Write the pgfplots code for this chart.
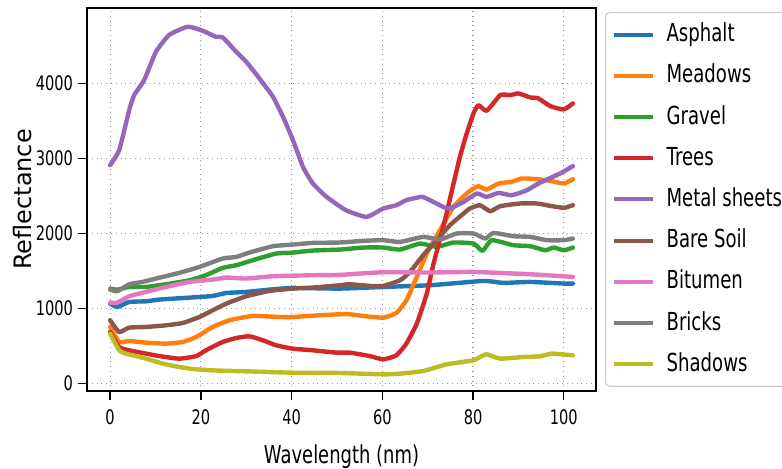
\documentclass[border=0pt]{standalone}
\usepackage{pgfplots}
\pgfplotsset{compat=1.18}
\usepackage{fontspec}
\setmainfont[FakeStretch=0.73]{DejaVu Sans}
\newfontfamily\ylabfont{DejaVu Sans}
\definecolor{c1}{HTML}{1F77B4}
\definecolor{c2}{HTML}{FF7F0E}
\definecolor{c3}{HTML}{2CA02C}
\definecolor{c4}{HTML}{D62728}
\definecolor{c5}{HTML}{9467BD}
\definecolor{c6}{HTML}{8C564B}
\definecolor{c7}{HTML}{E377C2}
\definecolor{c8}{HTML}{7F7F7F}
\definecolor{c9}{HTML}{BCBD22}
\begin{document}
\begin{tikzpicture}
\begin{axis}[
  at={(0,0)}, anchor=south west,
  scale only axis, width=254.5pt, height=191.5pt,
  xmin=-5.1, xmax=107.1, ymin=-98, ymax=5004,
  xtick={0,20,40,60,80,100}, ytick={0,1000,2000,3000,4000},
  scaled y ticks=false,
  /pgf/number format/assume math mode=true,
  /pgf/number format/1000 sep={},
  tick align=outside, major tick length=4.5pt,
  tick style={black, line width=0.7pt},
  xtick pos=bottom, ytick pos=left,
  ticklabel style={font=\fontsize{10}{12}\selectfont},
  xticklabel style={yshift=-1.5pt},
  yticklabel style={xshift=1pt},
  axis line style={black, line width=0.8pt},
  grid=major,
  major grid style={dotted, color=black!40, line width=0.6pt},
  xlabel={Wavelength (nm)},
  ylabel={Reflectance},
  xlabel style={font=\fontsize{12.3}{14}\selectfont, yshift=-3pt},
  ylabel style={font=\ylabfont\fontsize{12}{14}\selectfont, yshift=-5pt},
  every axis plot/.append style={line width=2.2pt, line join=round, line cap=round, smooth, tension=0.3},
  legend style={at={(rel axis cs:1,1)}, anchor=north west, xshift=4.5pt, yshift=-2pt,
    draw=black!20, rounded corners=2pt, line width=0.6pt,
    font=\fontsize{12.4}{15}\selectfont,
    inner xsep=3pt, inner ysep=4.5pt,
    row sep=7.6pt, column sep=6pt,
    nodes={inner sep=0pt, text height=10pt, text depth=3pt}},
  legend cell align=left,
  legend image code/.code={\draw[#1, line width=2pt, line cap=butt, sharp plot] (0pt,0pt) -- (19.5pt,0pt);},
]
\addplot[c1] coordinates {(0,1066) (1.6,1022) (4.2,1088) (7.9,1097) (10.8,1120) (17.5,1146) (22.6,1168) (25.6,1208) (30,1222) (35.9,1257) (40.3,1275) (50.6,1266) (60.2,1288) (70.5,1311) (82.3,1368) (86.7,1342) (92.6,1355) (100,1333) (102,1333)};
\addlegendentry{Asphalt}
\addplot[c2] coordinates {(0,755) (2,555) (4.2,568) (7.9,546) (12.3,533) (16,555) (19,622) (22.6,755) (26.3,844) (31.4,902) (37.3,888) (40.3,888) (46.2,911) (50.6,924) (52.8,924) (56.5,897) (60.2,880) (63.1,942) (65.3,1111) (67.6,1422) (69.8,1733) (72.7,2044) (75.7,2355) (78.6,2533) (80.1,2600) (81.2,2630) (83,2586) (85.6,2666) (88.5,2688) (90.7,2733) (94.1,2724) (97,2701) (100,2666) (102,2724)};
\addlegendentry{Meadows}
\addplot[c3] coordinates {(0,1266) (1.6,1253) (4.2,1288) (7.9,1288) (12.3,1324) (17.5,1377) (21.1,1444) (24.8,1542) (27.8,1577) (31.4,1644) (36.6,1733) (40.3,1746) (44.7,1773) (50.6,1786) (55.8,1813) (60.2,1813) (63.9,1786) (68.3,1866) (72,1822) (75.7,1880) (80.1,1866) (82.1,1768) (84.1,1911) (88.9,1844) (92.6,1831) (95.9,1777) (97.8,1813) (100,1777) (102,1813)};
\addlegendentry{Gravel}
\addplot[c4] coordinates {(0,688) (2,488) (3.5,453) (7.9,400) (10.8,368) (15.2,333) (19,368) (21.1,444) (24.8,555) (27.8,608) (30.7,631) (33.7,577) (36.6,511) (40.3,466) (44.7,444) (49.9,413) (52.8,413) (57.2,368) (60.2,324) (63.1,377) (65.3,533) (67.6,800) (69.8,1200) (71.3,1600) (73.8,2177) (75.7,2666) (77.1,3021) (78.6,3333) (80.1,3600) (81.2,3710) (83,3635) (86,3844) (88.2,3844) (90,3866) (92.6,3813) (94.4,3800) (97,3697) (100,3653) (102,3733)};
\addlegendentry{Trees}
\addplot[c5] coordinates {(0,2910) (2,3111) (4.2,3644) (5.3,3844) (7.5,4044) (10.1,4421) (13,4644) (17.1,4755) (20.4,4701) (23.3,4621) (24.8,4613) (27.8,4421) (30,4288) (32.9,4066) (35.9,3821) (38.1,3555) (40.3,3244) (42.5,2888) (44.7,2666) (47.7,2488) (52,2310) (56.5,2221) (60.2,2333) (63.1,2377) (65.3,2444) (68.7,2488) (70.5,2444) (73.4,2355) (74.9,2333) (77.9,2421) (80.8,2533) (83,2488) (85.6,2541) (88.5,2510) (91.9,2577) (94.4,2666) (99.2,2800) (102,2897)};
\addlegendentry{Metal sheets}
\addplot[c6] coordinates {(0,844) (2,688) (4.2,746) (7.9,755) (12.3,777) (16,808) (19.7,888) (22.6,977) (25.6,1066) (30,1164) (35.1,1235) (40.3,1266) (44.7,1280) (50.6,1311) (52.8,1324) (57.2,1302) (60.2,1302) (63.9,1377) (66.1,1488) (69,1711) (72,1911) (74.9,2111) (77.9,2266) (79.3,2333) (81.5,2377) (83.8,2297) (86,2364) (90.4,2400) (94.1,2400) (97,2368) (100,2342) (102,2377)};
\addlegendentry{Bare Soil}
\addplot[c7] coordinates {(0,1080) (1.6,1080) (4.2,1164) (7.9,1222) (12.3,1288) (17.5,1355) (22.6,1386) (25.6,1413) (30,1400) (35.9,1431) (44.7,1444) (50.6,1449) (60.2,1484) (70.5,1480) (80.1,1488) (92.6,1457) (102,1422)};
\addlegendentry{Bitumen}
\addplot[c8] coordinates {(0,1253) (1.6,1231) (4.2,1324) (7.1,1355) (10.1,1400) (15.2,1475) (19.7,1555) (24.8,1666) (27.8,1688) (30.7,1746) (35.9,1831) (40.3,1853) (44.7,1875) (50.6,1880) (55.8,1902) (60.2,1911) (63.9,1888) (69,1955) (72.7,1920) (76.4,2000) (80.1,2000) (82.7,1933) (84.5,2008) (88.9,1964) (92.6,1955) (96.3,1911) (100,1911) (102,1933)};
\addlegendentry{Bricks}
\addplot[c9] coordinates {(0,666) (2,444) (3.5,400) (7.9,333) (12.3,257) (17.5,200) (22.6,177) (30,164) (40.3,146) (50.6,142) (60.2,124) (63.9,133) (69,168) (74.2,257) (80.1,311) (81.5,355) (83,391) (86,333) (91.1,355) (94.8,364) (97.4,400) (102,377)};
\addlegendentry{Shadows}
\end{axis}
\pgfresetboundingbox
\path[use as bounding box] (-43.5pt,-38.5pt) rectangle (347.5pt,195.5pt);
\end{tikzpicture}
\end{document}
